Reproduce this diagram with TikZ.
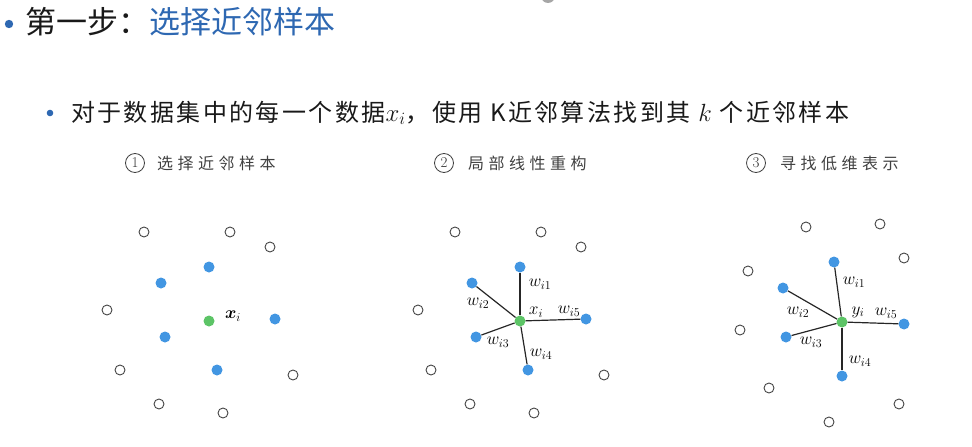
\documentclass[tikz,border=0pt]{standalone}
\usepackage{fontspec}
\usepackage{amsmath,amssymb}
\newfontfamily\cjk{Noto Sans CJK SC}
\newfontfamily\cjkriga[LetterSpace=10]{Noto Sans CJK SC}
\newfontfamily\cjkspaced[LetterSpace=28]{Noto Sans CJK SC}
\definecolor{titleblue}{RGB}{46,104,178}
\definecolor{dotblue}{RGB}{66,150,226}
\definecolor{dotgreen}{RGB}{92,196,102}
\definecolor{ringgray}{RGB}{70,70,70}
\tikzset{
  vuoto/.style={circle, draw=ringgray, line width=0.9pt, fill=white, minimum size=10pt, inner sep=0pt},
  vicino/.style={circle, fill=dotblue, minimum size=11pt, inner sep=0pt},
  centro/.style={circle, fill=dotgreen, minimum size=11pt, inner sep=0pt},
  peso/.style={font=\fontsize{17}{19}\selectfont, inner sep=0pt},
  legame/.style={line width=1.2pt, black!85},
  numero/.style={circle, draw=black!75, line width=0.8pt, minimum size=19pt, inner sep=0pt, font=\fontsize{15}{17}\selectfont, text=black!80},
  sottotitolo/.style={anchor=base west, inner sep=0pt, text=black!75, font=\cjkspaced\fontsize{16}{18}\selectfont}
}
\begin{document}
\begin{tikzpicture}[x=1pt, y=-1pt]
\useasboundingbox (0,0) rectangle (972,447);
% resto in alto
\fill[gray!70] (548,-4) circle (7);
% titolo
\fill[titleblue] (9,24) circle (4.2);
\node[anchor=base west, inner sep=0pt, text=black!90, font=\cjk\fontsize{31}{36}\selectfont] (passo) at (25,33) {第一步：\textcolor{titleblue}{选择近邻样本}};
% riga
\fill[titleblue] (50,113) circle (3.3);
\node[anchor=base west, inner sep=0pt, text=black!90, font=\cjkriga\fontsize{24}{28}\selectfont] (riga) at (71,121) {对于数据集中的每一个数据$x_i$，使用 K近邻算法找到其 $k$ 个近邻样本};
% titoli dei pannelli
\node[numero] (n1) at (135,163) {1};
\node[sottotitolo] (t1) at (157,169) {选择近邻样本};
\node[numero] (n2) at (444,163) {2};
\node[sottotitolo] (t2) at (468,169) {局部线性重构};
\node[numero] (n3) at (756,163) {3};
\node[sottotitolo] (t3) at (780,169) {寻找低维表示};
% pannello 1
\node[vuoto] (a1) at (144,232) {};
\node[vuoto] (a2) at (230,232) {};
\node[vuoto] (a3) at (270,247) {};
\node[vuoto] (a4) at (107,310) {};
\node[vuoto] (a5) at (120,370) {};
\node[vuoto] (a6) at (293,375) {};
\node[vuoto] (a7) at (159,404) {};
\node[vuoto] (a8) at (223,413) {};
\node[vicino] (p1) at (209,267) {};
\node[vicino] (p2) at (161,283) {};
\node[vicino] (p3) at (165,337) {};
\node[vicino] (p4) at (217,370) {};
\node[vicino] (p5) at (275,319) {};
\node[centro] (px) at (209,321) {};
\node[peso] (lx) at (233,316) {$\boldsymbol{x}_i$};
% pannello 2
\node[vuoto] (b1) at (455,232) {};
\node[vuoto] (b2) at (541,232) {};
\node[vuoto] (b3) at (581,247) {};
\node[vuoto] (b4) at (418,310) {};
\node[vuoto] (b5) at (431,370) {};
\node[vuoto] (b6) at (604,375) {};
\node[vuoto] (b7) at (470,404) {};
\node[vuoto] (b8) at (534,413) {};
\node[centro] (qx) at (520,321) {};
\node[vicino] (q1) at (520,267) {};
\node[vicino] (q2) at (472,283) {};
\node[vicino] (q3) at (476,337) {};
\node[vicino] (q4) at (528,370) {};
\node[vicino] (q5) at (586,319) {};
\draw[legame] (qx) -- (q1);
\draw[legame] (qx) -- (q2);
\draw[legame] (qx) -- (q3);
\draw[legame] (qx) -- (q4);
\draw[legame] (qx) -- (q5);
\node[peso] (qw1) at (540,284) {$w_{i1}$};
\node[peso] (qw2) at (478,303) {$w_{i2}$};
\node[peso] (qw3) at (498,342) {$w_{i3}$};
\node[peso] (qw4) at (541,354) {$w_{i4}$};
\node[peso] (qw5) at (569,311) {$w_{i5}$};
\node[peso] (lqx) at (536,312) {$x_i$};
% pannello 3
\node[vuoto] (c1) at (806,227) {};
\node[vuoto] (c2) at (880,224) {};
\node[vuoto] (c3) at (904,258) {};
\node[vuoto] (c4) at (748,271) {};
\node[vuoto] (c5) at (740,330) {};
\node[vuoto] (c6) at (769,388) {};
\node[vuoto] (c7) at (899,404) {};
\node[vuoto] (c8) at (829,422) {};
\node[centro] (ry) at (842,322) {};
\node[vicino] (r1) at (834,262) {};
\node[vicino] (r2) at (783,288) {};
\node[vicino] (r3) at (786,337) {};
\node[vicino] (r4) at (842,376) {};
\node[vicino] (r5) at (904,324) {};
\draw[legame] (ry) -- (r1);
\draw[legame] (ry) -- (r2);
\draw[legame] (ry) -- (r3);
\draw[legame] (ry) -- (r4);
\draw[legame] (ry) -- (r5);
\node[peso] (rw1) at (854,282) {$w_{i1}$};
\node[peso] (rw2) at (798,312) {$w_{i2}$};
\node[peso] (rw3) at (811,342) {$w_{i3}$};
\node[peso] (rw4) at (860,361) {$w_{i4}$};
\node[peso] (rw5) at (886,313) {$w_{i5}$};
\node[peso] (lry) at (858,312) {$y_i$};
\end{tikzpicture}
\end{document}
